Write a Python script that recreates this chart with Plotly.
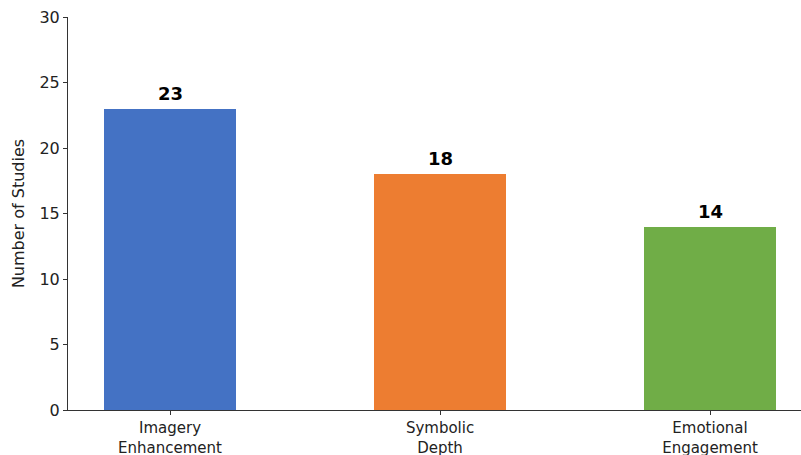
import plotly.graph_objects as go

# Study counts per enhancement category
categories = ["Imagery<br>Enhancement", "Symbolic<br>Depth", "Emotional<br>Engagement"]
study_counts = [23, 18, 14]
bar_colors = ["#4472C4", "#ED7D31", "#70AD47"]
y_ticks = [0, 5, 10, 15, 20, 25, 30]

font_family = "DejaVu Sans"
text_color = "#222"

fig = go.Figure(
    go.Bar(
        x=categories,
        y=study_counts,
        marker=dict(color=bar_colors, line=dict(width=0)),
        width=0.49,
        showlegend=False,
        hoverinfo="skip",
    )
)

# Value labels above each bar
for cat, val in zip(categories, study_counts):
    fig.add_annotation(
        x=cat, y=val, text=f"<b>{val}</b>", showarrow=False,
        yanchor="bottom", yshift=3,
        font=dict(family=font_family, size=18, color="black"),
    )

fig.update_layout(
    width=801, height=455,
    margin=dict(l=68, r=0, t=17, b=45),
    paper_bgcolor="white", plot_bgcolor="white",
    font=dict(family=font_family, size=16, color=text_color),
    bargap=0,
)
fig.update_xaxes(
    range=[-0.378, 2.337],
    automargin=False,
    showline=True, linecolor="#333", linewidth=1,
    ticks="outside", ticklen=4, tickcolor="#333",
    tickfont=dict(family=font_family, size=15, color=text_color),
    showgrid=False, zeroline=False,
)
fig.update_yaxes(
    range=[0, 30], tickvals=y_ticks,
    automargin=False,
    showline=True, linecolor="#333", linewidth=1,
    ticks="outside", ticklen=4, tickcolor="#333",
    tickfont=dict(family=font_family, size=16, color=text_color),
    title=dict(text="Number of Studies", font=dict(family=font_family, size=16, color=text_color), standoff=10),
    showgrid=False, zeroline=False,
)

fig.write_html("out.html")
